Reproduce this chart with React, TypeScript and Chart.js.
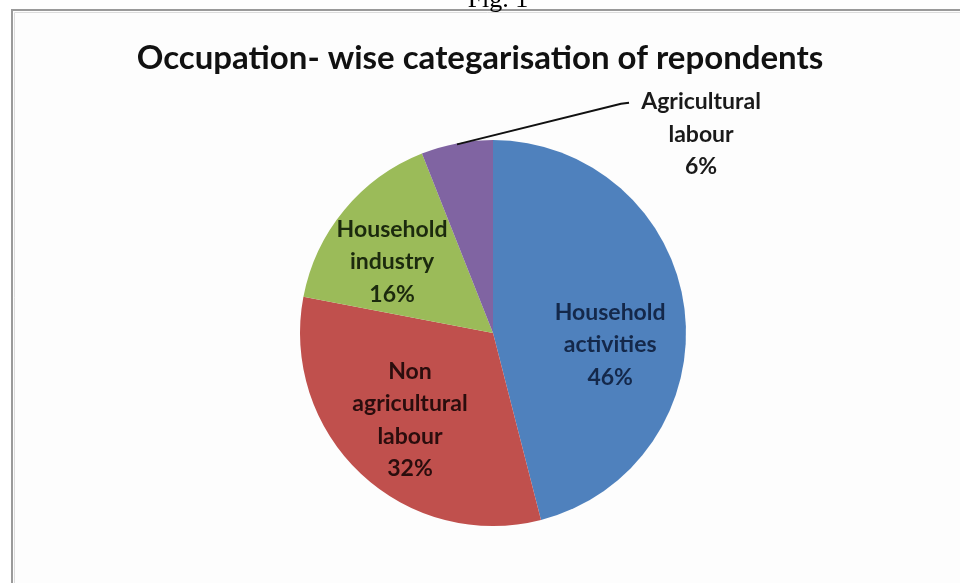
import React, { useEffect, useRef } from "react";
import { Chart, registerables } from "chart.js";

Chart.register(...registerables);

const categories = ["Household activities", "Non agricultural labour", "Household industry", "Agricultural labour"];
const values = [46, 32, 16, 6];
const labelLines = [["Household", "activities"], ["Non", "agricultural", "labour"], ["Household", "industry"], ["Agricultural", "labour"]];
const sliceColors = ["#4F81BD", "#C0504D", "#9BBB59", "#8064A2"];
const labelColors = ["#14284a", "#2a0d0d", "#1c2a0e", "#1a1a1a"];
const titleText = "Occupation- wise categarisation of repondents";
const figText = "Fig. 1";

// label block centre, as fraction of radius from pie centre
const labelOffsets = [[0.607, 0.062], [-0.43, 0.45], [-0.523, -0.368], [1.078, -1.03]];
const FONT = "Lato, 'Open Sans', sans-serif";

const decorPlugin = {
  id: "decor",
  beforeDraw(chart: any) {
    const ctx = chart.ctx;
    ctx.save();
    ctx.fillStyle = "#ffffff";
    ctx.fillRect(0, 0, chart.width, chart.height);
    ctx.fillStyle = "#fdfdfd";
    ctx.fillRect(13, 11, chart.width, chart.height);
    ctx.strokeStyle = "#dcdcdc";
    ctx.lineWidth = 1;
    ctx.beginPath();
    ctx.moveTo(14.5, chart.height);
    ctx.lineTo(14.5, 12.5);
    ctx.lineTo(chart.width, 12.5);
    ctx.stroke();
    ctx.strokeStyle = "#9a9a9a";
    ctx.lineWidth = 2;
    ctx.beginPath();
    ctx.moveTo(12, chart.height);
    ctx.lineTo(12, 10);
    ctx.lineTo(chart.width, 10);
    ctx.stroke();
    // Fig. 1 (cut off at top)
    ctx.fillStyle = "#000";
    ctx.font = "26px 'Liberation Serif', 'DejaVu Serif', serif";
    ctx.textAlign = "center";
    ctx.textBaseline = "alphabetic";
    ctx.fillText(figText, 498, 7);
    // title
    ctx.fillStyle = "#111";
    ctx.font = "bold 33px " + FONT;
    ctx.textBaseline = "middle";
    ctx.fillText(titleText, 480, 58);
    ctx.restore();
  },
  afterDraw(chart: any) {
    const ctx = chart.ctx;
    const meta = chart.getDatasetMeta(0);
    ctx.save();
    const lineH = 32.5;
    meta.data.forEach((arc: any, i: number) => {
      const { x, y, outerRadius, startAngle, endAngle } = arc.getProps(["x", "y", "outerRadius", "startAngle", "endAngle"], true);
      const lx = x + labelOffsets[i][0] * outerRadius;
      const ly = y + labelOffsets[i][1] * outerRadius;
      const lines = [...labelLines[i], values[i] + "%"];
      const top = ly - ((lines.length - 1) * lineH) / 2;
      ctx.fillStyle = labelColors[i];
      ctx.font = "bold 23px " + FONT;
      ctx.textAlign = "center";
      ctx.textBaseline = "middle";
      lines.forEach((t, k) => ctx.fillText(t, lx, top + k * lineH));
      const outside = Math.hypot(lx - x, ly - y) > outerRadius;
      if (outside) {
        const mid = (startAngle + endAngle) / 2;
        const sx = x + Math.cos(mid) * outerRadius * 0.995;
        const sy = y + Math.sin(mid) * outerRadius * 0.995;
        const ex = lx - 72;
        const ey = top + 1;
        ctx.strokeStyle = "#111";
        ctx.lineWidth = 2;
        ctx.beginPath();
        ctx.moveTo(sx, sy);
        ctx.lineTo(ex - 8, ey + 1);
        ctx.lineTo(ex, ey);
        ctx.stroke();
      }
    });
    ctx.restore();
  },
};

export default function App() {
  const ref = useRef<HTMLCanvasElement | null>(null);
  useEffect(() => {
    if (!ref.current) return;
    const chart = new Chart(ref.current, {
      type: "pie",
      data: {
        labels: categories,
        datasets: [
          {
            data: values,
            backgroundColor: sliceColors,
            borderWidth: 0,
          },
        ],
      },
      options: {
        responsive: false,
        animation: false,
        layout: { padding: { top: 140, bottom: 57, left: 300, right: 274 } },
        plugins: {
          legend: { display: false },
          tooltip: { enabled: false },
          title: { display: false },
        },
      },
      plugins: [decorPlugin],
    });
    return () => chart.destroy();
  }, []);
  return (
    <canvas
      ref={ref}
      width={960}
      height={583}
      style={{ position: "fixed", left: 0, top: 0, width: 960, height: 583 }}
    />
  );
}
